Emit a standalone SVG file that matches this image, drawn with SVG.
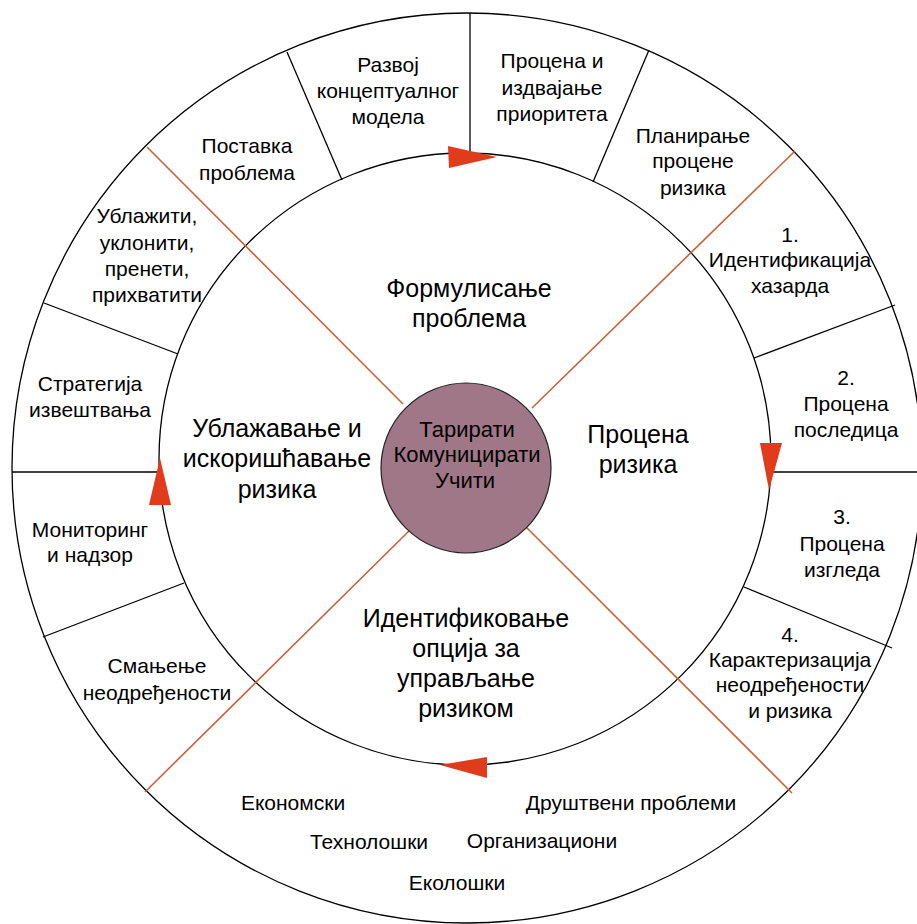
<svg xmlns="http://www.w3.org/2000/svg" width="917" height="924" viewBox="0 0 917 924">
<style>
.ring{fill:none;stroke:#000;stroke-width:1.3}
.div{stroke:#000;stroke-width:1.3}
.red{stroke:#c8603a;stroke-width:1.6}
.arr{fill:#e03c1c}
text{font-family:"Liberation Sans",Arial,sans-serif;fill:#000;text-anchor:middle}
.s{font-size:21px}
.b{font-size:25px}
.c{font-size:22px}
</style>
<rect width="917" height="924" fill="#fff"/>
<g id="rings">
<circle class="ring" cx="467" cy="468" r="455"/>
<circle class="ring" cx="465" cy="459" r="306"/>
</g>
<g id="connectors">
<line class="div" x1="287" y1="52" x2="342" y2="180"/>
<line class="div" x1="470" y1="13" x2="470" y2="153"/>
<line class="div" x1="649" y1="50" x2="593" y2="182"/>
<line class="div" x1="895" y1="305" x2="754" y2="358"/>
<line class="div" x1="770" y1="472" x2="922" y2="472"/>
<line class="div" x1="744" y1="587" x2="892" y2="648"/>
<line class="div" x1="43" y1="637" x2="184" y2="583"/>
<line class="div" x1="12" y1="472" x2="160" y2="472"/>
<line class="div" x1="44" y1="303" x2="178" y2="354"/>
<line class="red" x1="147" y1="147" x2="403" y2="404"/>
<line class="red" x1="795" y1="151" x2="532" y2="408"/>
<line class="red" x1="145" y1="792" x2="411" y2="529"/>
<line class="red" x1="792" y1="793" x2="525" y2="526"/>
<polygon class="arr" points="448,146 449,168 497,157"/>
<polygon class="arr" points="760,443 782,443 769,490"/>
<polygon class="arr" points="487,757 487,778 440,765"/>
<polygon class="arr" points="149,505 171,505 160,458"/>
</g>
<g id="center">
<circle cx="466" cy="468" r="85" fill="#a07787" stroke="#222" stroke-width="1.2"/>
<text class="c" x="467" y="437">Тарирати</text>
<text class="c" x="467" y="462">Комуницирати</text>
<text class="c" x="465" y="488">Учити</text>
</g>
<g id="q-formulation">
<text class="b" x="469" y="297">Формулисање</text>
<text class="b" x="469" y="327">проблема</text>
</g>
<g id="q-assessment">
<text class="b" x="638" y="443">Процена</text>
<text class="b" x="638" y="473">ризика</text>
</g>
<g id="q-options">
<text class="b" x="466" y="627">Идентификовање</text>
<text class="b" x="466" y="657">опција за</text>
<text class="b" x="466" y="687">управљање</text>
<text class="b" x="466" y="717">ризиком</text>
</g>
<g id="q-mitigation">
<text class="b" x="277" y="437">Ублажавање и</text>
<text class="b" x="277" y="467">искоришћавање</text>
<text class="b" x="277" y="498">ризика</text>
</g>
<g id="s-concept">
<text class="s" x="388" y="72">Развој</text>
<text class="s" x="388" y="98">концептуалног</text>
<text class="s" x="388" y="124">модела</text>
</g>
<g id="s-priority">
<text class="s" x="552" y="68">Процена и</text>
<text class="s" x="552" y="95">издвајање</text>
<text class="s" x="552" y="121">приоритета</text>
</g>
<g id="s-planning">
<text class="s" x="693" y="143">Планирање</text>
<text class="s" x="693" y="168">процене</text>
<text class="s" x="693" y="195">ризика</text>
</g>
<g id="s-hazard">
<text class="s" x="790" y="242">1.</text>
<text class="s" x="790" y="267">Идентификација</text>
<text class="s" x="790" y="293">хазарда</text>
</g>
<g id="s-consequence">
<text class="s" x="846" y="385">2.</text>
<text class="s" x="846" y="411">Процена</text>
<text class="s" x="846" y="437">последица</text>
</g>
<g id="s-outlook">
<text class="s" x="842" y="524">3.</text>
<text class="s" x="842" y="551">Процена</text>
<text class="s" x="842" y="577">изгледа</text>
</g>
<g id="s-characterization">
<text class="s" x="790" y="642">4.</text>
<text class="s" x="790" y="667">Карактеризација</text>
<text class="s" x="790" y="692">неодређености</text>
<text class="s" x="790" y="718">и ризика</text>
</g>
<g id="s-factors">
<text class="s" x="631" y="810">Друштвени проблеми</text>
<text class="s" x="542" y="848">Организациони</text>
<text class="s" x="457" y="890">Еколошки</text>
<text class="s" x="369" y="849">Технолошки</text>
<text class="s" x="293" y="810">Економски</text>
</g>
<g id="s-uncertainty">
<text class="s" x="157" y="673">Смањење</text>
<text class="s" x="157" y="700">неодређености</text>
</g>
<g id="s-monitoring">
<text class="s" x="90" y="537">Мониторинг</text>
<text class="s" x="90" y="562">и надзор</text>
</g>
<g id="s-reporting">
<text class="s" x="90" y="391">Стратегија</text>
<text class="s" x="90" y="417">извештвања</text>
</g>
<g id="s-actions">
<text class="s" x="147" y="223">Ублажити,</text>
<text class="s" x="147" y="250">уклонити,</text>
<text class="s" x="147" y="276">пренети,</text>
<text class="s" x="147" y="302">прихватити</text>
</g>
<g id="s-problem">
<text class="s" x="247" y="153">Поставка</text>
<text class="s" x="247" y="180">проблема</text>
</g>
</svg>
